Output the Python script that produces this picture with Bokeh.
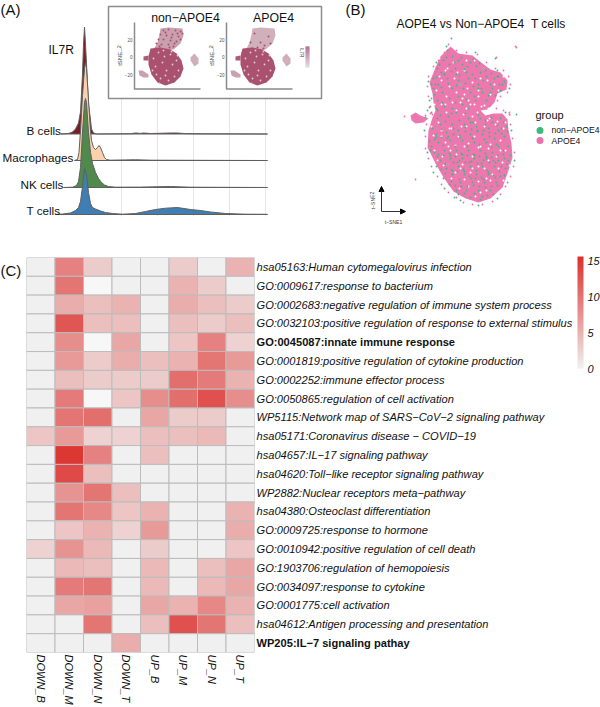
from bokeh.plotting import figure
from bokeh.layouts import column, row
from bokeh.models import Range1d, FactorRange, LinearColorMapper, ColorBar, FixedTicker, Label, Arrow, NormalHead, ColumnDataSource
from bokeh.core.properties import value
from bokeh.embed import file_html
from bokeh.resources import INLINE

FONT = "Liberation Sans"

# ---------- Panel A: ridges (x: position right of the main peak; height above each baseline)
ridge_names = ["B cells", "Macrophages", "NK cells", "T cells"]
ridge_levels = [80.5, 54, 27, 0]
ridge_colors = ["#7b1c25", "#fbd0ad", "#4f8a4c", "#3f7db3"]
ridge_x_b = [-25, -17, -13, -10, -7, -5, -3, -2, -1, 0, 2, 3, 5, 6, 8, 11, 45, 50, 55, 58, 65, 75, 85, 92, 100, 115, 182]
ridge_h_b = [0, .5, 2, 5, 11, 22, 60, 90, 107, 90, 50, 30, 14, 5, 1, 0, .3, 1, .6, 1, .5, .7, 1, 1, .4, .2, 0]
ridge_x_m = [-11, -8, -6.5, -5, -3, -1, 0, 1, 3, 5, 6, 8, 10, 12, 13.5, 15, 17, 19, 21, 25, 40, 50, 65, 182]
ridge_h_m = [0, 1, 8, 30, 65, 92, 98, 92, 60, 30, 20, 13, 11, 13, 15, 13, 8, 3, 1, .3, .6, .8, .3, 0]
ridge_x_n = [-22, -13, -9, -7, -5, -3, -1, 0, 1, 3, 5, 7, 10, 13, 16, 19, 23, 30, 55, 85, 105, 182]
ridge_h_n = [0, .3, 2, 6, 20, 55, 85, 89, 85, 55, 35, 24, 15, 9, 5, 2.5, 1, .3, .4, 1, .3, 0]
ridge_x_t = [-30, -23, -15, -10, -7, -5, -3, -1, 1, 3, 5, 7, 10, 15, 20, 27, 37, 50, 60, 70, 80, 92, 105, 115, 125, 140, 160, 182]
ridge_h_t = [0, .5, 1.5, 4, 7, 13, 28, 46, 40, 22, 11, 7, 5.5, 3.5, 2, 1, .3, 1, 3, 5, 6.3, 7, 5, 4, 2.5, 1, .3, .2]
ridge_grid_x = [36, 72, 108, 144, 180]
gene_name = "IL7R"
inset_titles = ["non\u2212APOE4", "APOE4"]
inset_ticks = ["20", "0", "\u221220"]
inset_tick_y = [39, 56, 74]

# Outlines and a sample of speckles (individual cells cannot be read)
lobe_top_x = [160, 168, 182, 183, 180, 173, 165, 155, 153, 157, 159]
lobe_top_y = [28, 27, 28, 35, 43, 49, 50, 52, 50, 42, 34]
lobe_main_x = [150, 160, 170, 176, 181, 183, 180, 174, 165, 157, 151, 148, 148]
lobe_main_y = [48, 47, 49, 53, 60, 68, 76, 82, 85, 82, 74, 64, 56]
lobe_mini_x = [143, 148, 148, 143]
lobe_mini_y = [56, 55, 60, 60]
lobe_ll_x = [138, 142, 148, 148, 143, 139]
lobe_ll_y = [70, 70, 74, 77, 77, 75]
lobe_r_x = [190, 194, 198, 198, 194, 190]
lobe_r_y = [57, 53, 58, 63, 66, 60]
left_dark_x = [163, 168, 175, 180, 160, 166, 172, 178, 158, 163, 170, 176, 156, 161, 168, 174, 180, 171, 165, 182, 177, 169, 155, 159, 173]
left_dark_y = [30, 29, 30, 31, 34, 35, 34, 36, 39, 39, 40, 41, 43, 44, 44, 43, 39, 37, 32, 33, 33, 47, 48, 46, 46]
right_dark_x = [162, 176, 168, 158, 172, 160, 155, 165, 171, 178, 163, 150, 153]
right_dark_y = [33, 36, 42, 42, 45, 48, 50, 47, 48, 43, 50, 52, 50]
main_light_x = [153, 158, 164, 170, 176, 155, 162, 172, 178, 156, 166, 174, 152, 160, 168, 163, 171, 177, 159, 165]
main_light_y = [58, 52, 56, 54, 60, 66, 62, 64, 70, 74, 70, 76, 70, 78, 80, 50, 51, 55, 83, 75]

# ---------- Panel B: outlines and green/white speckles
body_x = [450, 458, 472, 482, 490, 500, 507, 506, 497, 494, 487, 480, 485, 493, 502, 507, 508, 511, 512, 508, 502, 490, 478, 465, 453, 443, 435, 427, 428, 432, 435, 433, 432, 429, 435, 440]
body_y = [46, 53, 55, 63, 69, 72, 80, 89, 93, 102, 109, 110, 115, 113, 113, 119, 130, 143, 157, 170, 187, 198, 202, 198, 191, 177, 163, 147, 130, 117, 110, 102, 93, 82, 67, 56]
blob_x = [410, 415, 420, 428, 423, 415, 411]
blob_y = [115, 112, 115, 118, 122, 123, 120]
green_x = [447, 452, 443, 449, 458, 437, 441, 455, 462, 470, 476, 466, 433, 438, 447, 458, 468, 480, 486, 494, 502, 490, 478, 463, 452, 442, 434, 437, 449, 458, 470, 482, 492, 475, 486, 462, 444, 452, 436, 468,
           440, 448, 456, 468, 480, 492, 500, 506, 498, 488, 476, 464, 452, 440, 432, 436, 446, 458, 470, 482, 494, 504, 508, 498, 486, 474, 462, 450, 438, 431, 434, 444, 456, 468, 480, 492, 503, 508, 498, 486, 474, 462, 450, 440, 436, 446, 458, 470, 482, 494, 505, 500, 488, 476, 464, 452, 443, 449, 460, 472, 484, 496, 490, 478, 466, 456, 470, 482,
           444, 456, 472, 483, 497, 435, 460, 478, 490, 442, 466, 474, 455, 437, 470, 485, 441, 453, 465, 477, 489, 501, 436, 448, 460, 472, 484, 496, 443, 455, 467, 479, 491, 503, 438, 450, 462, 474, 486, 445, 457, 469, 481, 493, 452, 464, 476, 488, 459, 471, 483, 495,
           439, 446, 454, 461, 467, 473, 479, 485, 491, 498, 504, 500, 495, 488, 481, 473, 465, 456, 448, 441, 433, 431, 436, 444, 451, 459, 464, 475, 483, 499,
           431, 437, 445, 451, 459, 465, 472, 478, 485, 491, 497, 503, 507, 501, 495, 489, 483, 477, 471, 465, 459, 453, 447, 441, 434, 429, 430, 437, 443, 449, 455, 461, 467, 473, 479, 485, 491, 497, 504, 510, 507, 501, 495, 489, 483, 477, 471, 465, 459, 453, 447, 441, 445, 451, 457, 463, 469, 475, 481, 487, 493, 499, 504, 497, 491, 485, 479, 473, 467, 461, 455, 451, 458, 464, 474, 480, 487, 493,
           446, 436, 428, 429, 424, 427, 433, 444, 460, 478, 497, 507, 514, 511, 505, 509, 497, 475]
green_y = [50, 56, 60, 64, 60, 68, 72, 68, 64, 62, 66, 72, 78, 84, 78, 80, 78, 72, 76, 78, 84, 84, 84, 88, 88, 92, 94, 100, 98, 96, 92, 92, 88, 100, 100, 104, 106, 108, 108, 108,
           115, 116, 112, 118, 118, 122, 118, 126, 130, 128, 126, 124, 124, 124, 128, 134, 132, 130, 134, 134, 138, 136, 146, 146, 142, 142, 140, 140, 142, 146, 152, 150, 150, 150, 150, 152, 154, 160, 160, 158, 158, 158, 158, 160, 166, 168, 166, 166, 166, 166, 168, 176, 174, 174, 174, 174, 178, 184, 182, 182, 182, 182, 190, 190, 190, 190, 197, 196,
           74, 74, 74, 68, 76, 84, 84, 88, 92, 102, 99, 96, 102, 118, 122, 120, 129, 128, 127, 130, 132, 128, 137, 136, 137, 138, 139, 144, 145, 146, 146, 144, 147, 150, 154, 155, 154, 155, 156, 163, 162, 162, 163, 160, 170, 171, 170, 172, 179, 178, 179, 177,
           64, 57, 62, 57, 66, 59, 63, 70, 73, 76, 81, 90, 95, 95, 88, 86, 83, 85, 83, 87, 88, 84, 77, 74, 71, 75, 69, 78, 80, 84,
           112, 110, 121, 113, 120, 113, 122, 115, 124, 117, 125, 122, 131, 133, 133, 136, 130, 131, 129, 131, 135, 134, 138, 137, 139, 141, 150, 156, 155, 153, 156, 153, 155, 154, 156, 153, 157, 155, 158, 155, 164, 166, 162, 162, 160, 163, 161, 162, 160, 162, 164, 169, 173, 170, 171, 169, 176, 178, 177, 170, 175, 171, 175, 185, 186, 187, 186, 185, 186, 186, 185, 181, 194, 193, 193, 199, 195, 194,
           46, 62, 81, 100, 130, 152, 172, 188, 200, 205, 198, 182, 160, 130, 112, 88, 70, 52]
white_x = [445, 453, 464, 474, 483, 441, 449, 460, 472, 487, 498, 436, 446, 456, 467, 478, 490, 441, 452, 460, 468, 474, 481, 488, 456, 466, 477, 446, 463, 472, 489, 495, 503, 438, 451, 466, 484, 500, 441, 458, 474, 490, 505, 434, 448, 464, 480, 496, 442, 456, 472, 488, 502, 447, 462, 478, 492, 455, 470, 486, 468, 480,
           439, 447, 457, 466, 480, 494, 503, 439, 454, 464, 478, 445, 462, 470, 484, 434, 431, 441, 449, 461, 475, 487, 497, 505, 433, 445, 455, 468, 478, 488, 500, 509, 437, 450, 460, 472, 484, 498, 443, 451, 464, 478, 490, 503, 459, 475, 486]
white_y = [70, 62, 70, 60, 68, 80, 86, 84, 82, 80, 90, 90, 96, 92, 88, 96, 94, 104, 102, 102, 100, 104, 106, 108, 110, 108, 112, 112, 114, 116, 118, 124, 128, 122, 128, 126, 126, 140, 136, 136, 136, 144, 150, 150, 146, 146, 146, 156, 156, 154, 156, 160, 162, 164, 164, 166, 174, 172, 172, 178, 186, 192,
           58, 68, 72, 60, 78, 84, 76, 76, 78, 94, 90, 104, 98, 104, 105, 104, 126, 130, 128, 126, 122, 120, 121, 122, 135, 142, 145, 143, 147, 148, 150, 165, 160, 150, 168, 168, 168, 168, 165, 178, 179, 181, 180, 180, 188, 196, 190]
out_pink_x = [515, 516, 496, 494, 509, 509, 415, 415, 417, 404, 425, 430,
              448, 444, 438, 433, 428, 427, 428, 430, 432, 426, 425, 425, 428, 431, 437, 441, 448, 456, 463, 472, 482, 492, 500, 505, 510, 513, 514, 512, 510, 509, 503, 496, 490, 497, 500, 507, 510, 508, 503, 495, 486, 477, 466, 456]
out_pink_y = [46, 47, 57, 116, 112, 114, 179, 116, 119, 116, 115, 113,
              44, 52, 60, 66, 76, 86, 96, 106, 114, 124, 136, 148, 158, 166, 176, 184, 192, 197, 202, 204, 204, 201, 194, 186, 176, 166, 152, 138, 124, 114, 110, 108, 105, 100, 96, 92, 84, 76, 70, 68, 62, 54, 52, 50]
out_green_x = [451, 495, 516, 431, 429, 427, 425, 454]
out_green_y = [38, 58, 114, 98, 107, 110, 117, 197]
legend_title = "group"
legend_labels = ["non\u2212APOE4", "APOE4"]
legend_colors = ["#3fb87c", "#ee6fae"]
title_b = "AOPE4 vs Non\u2212APOE4 \u00a0T cells"

# ---------- Panel C: heatmap (None = paler empty cell)
hm_cols = ["DOWN_B", "DOWN_M", "DOWN_N", "DOWN_T", "UP_B", "UP_M", "UP_N", "UP_T"]
hm_rows = ["hsa05163:Human cytomegalovirus infection", "GO:0009617:response to bacterium",
           "GO:0002683:negative regulation of immune system process",
           "GO:0032103:positive regulation of response to external stimulus",
           "GO:0045087:innate immune response", "GO:0001819:positive regulation of cytokine production",
           "GO:0002252:immune effector process", "GO:0050865:regulation of cell activation",
           "WP5115:Network map of SARS\u2212CoV\u22122 signaling pathway", "hsa05171:Coronavirus disease \u2212 COVID\u221219",
           "hsa04657:IL\u221217 signaling pathway", "hsa04620:Toll\u2212like receptor signaling pathway",
           "WP2882:Nuclear receptors meta\u2212pathway", "hsa04380:Osteoclast differentiation",
           "GO:0009725:response to hormone", "GO:0010942:positive regulation of cell death",
           "GO:1903706:regulation of hemopoiesis", "GO:0034097:response to cytokine", "GO:0001775:cell activation",
           "hsa04612:Antigen processing and presentation", "WP205:IL\u22127 signaling pathay"]
hm_bold = ["GO:0045087:innate immune response", "WP205:IL\u22127 signaling pathay"]
hm_values = [
    [0, 9, 3, 0, 0, 3, 0, 5],
    [0, 10, None, 0, 0, 5, 3, 0],
    [0, 5.5, 4, 5, 0, 5.5, 4, 3],
    [0, 12.5, 4, 4, 0, 4, 3, 4],
    [0, 8, None, 6, 0, 3.5, 9, 2.5],
    [0, 7, 3, 5.5, 4, 5, 10, 7],
    [0, 4, 3, 3, 3, 10.5, 9.5, 5],
    [0, 9.5, None, 3.5, 8, 10.5, 13, 8],
    [0, 10, 10.5, 0, 6, 3, 3, 0],
    [3.5, 7, 2.5, 2.5, 4, 4, 4.5, 0],
    [0, 15, 9, 0, 4, 0, 0, 0],
    [0, 13.5, 4, 0, 0, 0, 0, 0],
    [0, 7.5, 10, 4, 0, 0, 0, 0],
    [0, 10, 8.5, 3.5, 5, 0, 0, 5],
    [0, 3.5, 5, 2.5, 7, 0, 0, 5.5],
    [2.5, 7.5, 4.5, 0, 3, 0, 0, 3.5],
    [0, 4.5, 4, 0, 4.5, 0, 4, 6],
    [0, 9.5, 10, 0, 4.5, 0, 4.5, 6],
    [0, 6, 6.5, 0, 6, 5, 8.5, 5],
    [0, 0, 10, 0, 4, 13, 10, 4],
    [0, 0, 0, 5.5, 0, 0, 0, 0],
]
cb_ticks = [0, 5, 10, 15]


def hexmix(a, b, t):
    ca = [int(a[i:i + 2], 16) for i in (1, 3, 5)]
    cb = [int(b[i:i + 2], 16) for i in (1, 3, 5)]
    return "#%02x%02x%02x" % tuple(round(u + (v - u) * t) for u, v in zip(ca, cb))


def txt(p, x, y, s, size, color="#111111", align="left", angle=0, style="normal", **kw):
    p.add_layout(Label(x=x, y=y, text=s, text_font=FONT, text_font_size=f"{size}px", text_color=color,
                       text_align=align, text_baseline="middle", angle=angle, text_font_style=style, **kw))


def bare(w, h, xr, yr):
    f = figure(width=w, height=h, x_range=xr, y_range=yr, output_backend="svg", toolbar_location=None,
               min_border=0, outline_line_color=None, background_fill_color="white", border_fill_color="white")
    f.axis.visible = False
    f.grid.visible = False
    return f


# ---------- Panel A
pa = bare(340, 240, Range1d(-85, 255), Range1d(-26, 214))
pa.extra_x_ranges = {"page": Range1d(0, 340), "inset2": Range1d(-92, 248)}
pa.extra_y_ranges = {"page": Range1d(240, 0)}
P = dict(x_range_name="page", y_range_name="page")

pa.multi_line([[g, g] for g in ridge_grid_x], [[-2, 117] for g in ridge_grid_x], line_color="#e6e6e6", line_width=1)
ridge_xs = [ridge_x_b, ridge_x_m, ridge_x_n, ridge_x_t]
ridge_hs = [ridge_h_b, ridge_h_m, ridge_h_n, ridge_h_t]
for xs, hs, lvl, col in zip(ridge_xs, ridge_hs, ridge_levels, ridge_colors):
    pa.patch(xs + [xs[-1], xs[0]], [lvl + h for h in hs] + [lvl, lvl], fill_color=col, line_color=None)
    pa.line(xs + [xs[-1], xs[0]], [lvl + h for h in hs] + [lvl, lvl], line_color="#5f5f5f", line_width=1)

pa.quad(left=[108], right=[321], top=[6], bottom=[98], fill_color="white", line_color="#8c8c8c", line_width=1.5, **P)
for rng, t in (("page", 0), ("inset2", 1)):
    kw = dict(x_range_name=rng, y_range_name="page")
    dx, dy = (left_dark_x, left_dark_y) if t == 0 else (right_dark_x, right_dark_y)
    pa.patch(lobe_top_x, lobe_top_y, fill_color="#d0b0ba" if t else "#c9a0ae", line_color=None, **kw)
    pa.patch(lobe_main_x, lobe_main_y, fill_color="#a9516f", line_color=None, **kw)
    pa.patch(lobe_mini_x, lobe_mini_y, fill_color="#ab5a76", line_color=None, **kw)
    pa.patch(lobe_ll_x, lobe_ll_y, fill_color="#c9a0ae", line_color=None, **kw)
    pa.patch(lobe_r_x, lobe_r_y, fill_color="#cfb0ba", line_color=None, **kw)
    pa.scatter(dx, dy, size=2, fill_color="#a9516f", line_color=None, **kw)
    pa.scatter(main_light_x, main_light_y, size=1.8, fill_color="#e3cbd2", line_color=None, **kw)
    pa.multi_line([[134, 134, 200]], [[22, 88.5, 88.5]], line_color="#8a8a8a", line_width=1.5, **kw)
    for s, y in zip(inset_ticks, inset_tick_y):
        txt(pa, 132, y, s, 4.5, "#555555", "right", x_range_name=rng, y_range_name="page")
    txt(pa, 119, 55, "tSNE_2", 6, "#444444", "center", 1.5708, x_range_name=rng, y_range_name="page")
txt(pa, 185, 17, inset_titles[0], 12.3, "#111111", "center", **P)
txt(pa, 273, 17, inset_titles[1], 12.3, "#111111", "center", **P)
for i in range(21):
    pa.quad(left=[305], right=[309], top=[46 + i], bottom=[47 + i], line_color=None,
            fill_color=hexmix("#a3406a", "#ddd0d5", i / 20), **P)
txt(pa, 301, 52, gene_name, 4.5, "#333333", "center", -1.5708, **P)

txt(pa, 0, 9, "(A)", 15, **P)
txt(pa, 48, 49, gene_name, 12, **P)
for name, x, y in zip(ridge_names, [26, 2, 20, 26], [130, 157, 184, 210]):
    txt(pa, x, y, name, 11.7, **P)

# ---------- Panel B
pb = bare(260, 240, Range1d(340, 600), Range1d(240, 0))
pb.patch(body_x, body_y, fill_color="#ed78b0", line_color=None)
pb.patch(blob_x, blob_y, fill_color="#ed78b0", line_color=None)
pb.scatter(white_x, white_y, size=2, fill_color="white", line_color=None)
pb.scatter(green_x, green_y, size=1.9, fill_color=legend_colors[0], line_color=None)
pb.scatter(out_pink_x, out_pink_y, size=1.8, fill_color=legend_colors[1], line_color=None)
pb.scatter(out_green_x, out_green_y, size=1.8, fill_color=legend_colors[0], line_color=None)
pb.scatter([539.5, 539.5], [130, 140], size=7, fill_color=legend_colors, line_color=None)
txt(pb, 345, 9, "(B)", 15)
txt(pb, 396, 23, title_b, 12)
txt(pb, 535, 114, legend_title, 11)
txt(pb, 551, 129.5, legend_labels[0], 8.6)
txt(pb, 551, 140, legend_labels[1], 8.6)
head = dict(size=5, fill_color="black", line_color="black")
pb.add_layout(Arrow(end=NormalHead(**head), x_start=381, y_start=211, x_end=381, y_end=186, line_width=1, line_color="#333333"))
pb.add_layout(Arrow(end=NormalHead(**head), x_start=381, y_start=211, x_end=405, y_end=211, line_width=1, line_color="#333333"))
txt(pb, 372, 200, "t\u2212SNE2", 5, "#333333", "center", 1.5708)
txt(pb, 393, 221, "t\u2212SNE1", 5, "#333333", "center")

# ---------- Panel C
palette = [hexmix("#f0f0f0", "#dc2f2c", i / 255) for i in range(256)]
mapper = LinearColorMapper(palette=palette, low=0, high=15.7, nan_color="#f7f7f7")
row_range = FactorRange(factors=hm_rows[::-1])

ps = bare(25, 467, Range1d(0, 25), Range1d(467, 0))
txt(ps, 0, 15, "(C)", 15)

pc = figure(width=230, height=467, x_range=FactorRange(factors=hm_cols), y_range=row_range,
            output_backend="svg", toolbar_location=None, min_border_left=1, min_border_right=1,
            min_border_top=17, min_border_bottom=54, outline_line_color=None,
            background_fill_color="white", border_fill_color="white")
cx, cy, cv = [], [], []
for r, vals in zip(hm_rows, hm_values):
    for c, v in zip(hm_cols, vals):
        cx.append(c); cy.append(r); cv.append(float("nan") if v is None else v)
pc.rect(x="x", y="y", width=1, height=1, source=ColumnDataSource(dict(x=cx, y=cy, v=cv)),
        fill_color={"field": "v", "transform": mapper}, line_color="#bcbcbc", line_width=1)
pc.grid.visible = False
pc.yaxis.visible = False
ax = pc.xaxis[0]
ax.axis_line_color = None
ax.major_tick_line_color = None
ax.minor_tick_line_color = None
ax.major_tick_out = 0
ax.major_tick_in = 0
ax.major_label_text_font = FONT
ax.major_label_text_font_style = "italic"
ax.major_label_text_color = "#111111"
ax.major_label_orientation = -1.5708
ax.major_label_text_font_size = "11px"
ax.major_label_standoff = 2

pl = figure(width=345, height=467, x_range=Range1d(255, 600), y_range=row_range,
            output_backend="svg", toolbar_location=None, min_border_left=0, min_border_right=0,
            min_border_top=17, min_border_bottom=54, outline_line_color=None,
            background_fill_color="white", border_fill_color="white")
pl.axis.visible = False
pl.grid.visible = False
plain = [r for r in hm_rows if r not in hm_bold]
pl.text(x=[256] * len(plain), y=plain, text=plain, text_font=value(FONT), text_font_size="11.1px",
        text_font_style="italic", text_color="#111111", text_baseline="middle")
pl.text(x=[256] * len(hm_bold), y=hm_bold, text=hm_bold, text_font=value(FONT), text_font_size="11.1px",
        text_font_style="bold", text_color="#111111", text_baseline="middle")
cbar = ColorBar(color_mapper=mapper, ticker=FixedTicker(ticks=cb_ticks), width=6, height=112,
                location=(322, 284), padding=0, margin=0, background_fill_color=None, border_line_color=None,
                major_tick_line_color=None, minor_tick_line_color=None, bar_line_color=None,
                major_label_text_font=FONT, major_label_text_font_size="11px",
                major_label_text_font_style="italic", major_label_text_color="#111111", label_standoff=4)
pl.add_layout(cbar, "center")

root = column(row(pa, pb, spacing=0), row(ps, pc, pl, spacing=0), spacing=0, margin=0)
open("out.html", "w").write(file_html(root, INLINE))
